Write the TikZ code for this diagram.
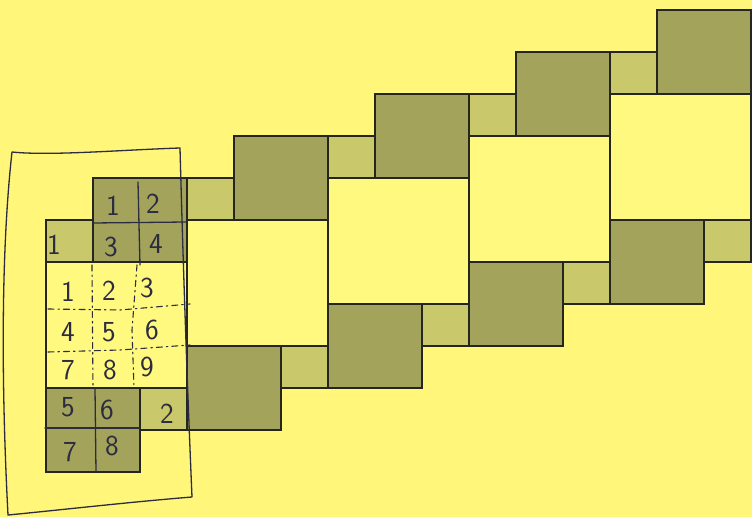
\documentclass[tikz,border=0pt]{standalone}
\definecolor{bgc}{HTML}{FFF67A}
\definecolor{bigc}{HTML}{FFF980}
\definecolor{darkc}{HTML}{A3A35C}
\definecolor{lightc}{HTML}{C9C86A}
\definecolor{edge}{HTML}{262620}
\definecolor{ink}{HTML}{2C2C40}
\begin{document}
\begin{tikzpicture}[x=47pt,y=42pt,
  bigsq/.style={fill=bigc,draw=edge,line width=1.6pt},
  darksq/.style={fill=darkc,draw=edge,line width=1.6pt},
  lightsq/.style={fill=lightc,draw=edge,line width=1.6pt},
  hand/.style={draw=ink,line width=1.3pt,line cap=round,line join=round},
  handdash/.style={hand,line width=1.1pt,dash pattern=on 6pt off 4pt on 1.5pt off 4pt},
  digit/.style={text=ink,font=\sffamily\fontsize{29}{29}\selectfont,inner sep=0pt}]
\useasboundingbox[fill=bgc] (-46pt,-129pt) rectangle (706pt,388pt);
\foreach \i in {0,...,4}{
  \draw[bigsq] (3*\i,\i) rectangle (3*\i+3,\i+3);
}
\foreach \i in {0,...,4}{
  \draw[darksq] (3*\i+1,\i+3) rectangle (3*\i+3,\i+5);
  \draw[lightsq] (3*\i,\i+3) rectangle (3*\i+1,\i+4);
  \draw[darksq] (3*\i,\i-2) rectangle (3*\i+2,\i);
  \draw[lightsq] (3*\i+2,\i-1) rectangle (3*\i+3,\i);
}
\begin{scope}[x=1pt,y=-1pt,shift={(-46pt,388pt)}]
  % hand-drawn outline
  \draw[hand] (12,152) .. controls (50,156) and (120,150) .. (180,148)
    .. controls (183,260) and (187,380) .. (192,497)
    .. controls (130,502) and (60,510) .. (8,515)
    .. controls (2,400) and (0,260) .. (12,152) -- cycle;
  % grid lines in the dark squares
  \draw[hand] (93,223) -- (186,222);
  \draw[hand] (138,182) -- (139,225) -- (140,265);
  \draw[hand] (95,388) -- (96,472);
  \draw[hand] (45,428) -- (140,428);
  % dashed grid in the large square
  \draw[handdash] (92,265) -- (93,388);
  \draw[handdash] (137,265) -- (132,330) -- (134,388);
  \draw[handdash] (48,309) -- (120,310) -- (190,304);
  \draw[handdash] (48,352) -- (120,350) -- (190,345);
  % digits
  \node[digit] (a1) at (113,206) {1};
  \node[digit] (a2) at (153,204) {2};
  \node[digit] (a3) at (111,247) {3};
  \node[digit] (a4) at (156,244) {4};
  \node[digit] (l1) at (54,245) {1};
  \node[digit] (g1) at (68,292) {1};
  \node[digit] (g2) at (109,291) {2};
  \node[digit] (g3) at (147,288) {3};
  \node[digit] (g4) at (68,332) {4};
  \node[digit] (g5) at (109,332) {5};
  \node[digit] (g6) at (152,330) {6};
  \node[digit] (g7) at (68,370) {7};
  \node[digit] (g8) at (110,370) {8};
  \node[digit] (g9) at (147,367) {9};
  \node[digit] (b5) at (68,407) {5};
  \node[digit] (b6) at (107,410) {6};
  \node[digit] (l2) at (167,414) {2};
  \node[digit] (b7) at (70,452) {7};
  \node[digit] (b8) at (112,446) {8};
\end{scope}
\end{tikzpicture}
\end{document}
